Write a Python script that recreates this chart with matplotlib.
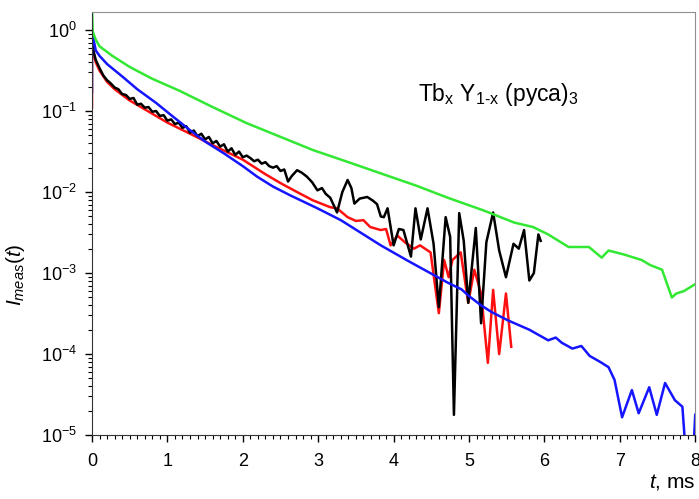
import numpy as np
import matplotlib
matplotlib.use('Agg')
import matplotlib.pyplot as plt
from matplotlib.ticker import MultipleLocator, LogFormatterMathtext, LogLocator

plt.rcParams['font.family'] = ['Liberation Sans', 'DejaVu Sans']
plt.rcParams['mathtext.fontset'] = 'custom'
plt.rcParams['mathtext.rm'] = 'Liberation Sans'
plt.rcParams['mathtext.it'] = 'Liberation Sans:italic'

# green curve
green_t = [0, 0.01, 0.05, 0.1, 0.27, 0.5, 0.8, 1.16, 1.6, 2.05, 2.5, 2.93, 3.4, 3.83,
           4.3, 4.72, 5.2, 5.6, 5.85, 6.05, 6.32, 6.59, 6.76, 6.85, 7.05, 7.29, 7.4,
           7.56, 7.69, 7.75, 7.85, 8.05]
green_i = [1.9, 0.95, 0.76, 0.63, 0.48, 0.35, 0.25, 0.178, 0.112, 0.071, 0.048, 0.033,
           0.0234, 0.017, 0.012, 0.0085, 0.0059, 0.0042, 0.0037, 0.003, 0.0021, 0.0021,
           0.00155, 0.0019, 0.0017, 0.00145, 0.00126, 0.0011, 0.0005, 0.00056, 0.0006,
           0.00078]

# blue curve
blue_t = [0, 0, 0.05, 0.1, 0.2, 0.41, 0.6, 0.85, 1.05, 1.29, 1.5, 1.75, 2.0, 2.19, 2.4,
          2.63, 2.99, 3.3, 3.83, 4.2, 4.72, 4.9, 5.0, 5.16, 5.3, 5.52, 5.8, 6.05, 6.15,
          6.23, 6.37, 6.49, 6.6, 6.75, 6.85, 6.93, 7.03, 7.16, 7.25, 7.39, 7.49, 7.6,
          7.73, 7.83, 7.88, 7.97, 8.0]
blue_i = [0.17, 0.95, 0.56, 0.48, 0.38, 0.263, 0.186, 0.126, 0.089, 0.059, 0.042, 0.030,
          0.0209, 0.0155, 0.0117, 0.0091, 0.0063, 0.0045, 0.0022, 0.0014, 0.00076,
          0.00063, 0.00052, 0.0004, 0.00033, 0.00026, 0.0002, 0.000148, 0.00016,
          0.000138, 0.000117, 0.000126, 0.000095, 0.000079, 0.000069, 0.000048,
          0.0000166, 0.000036, 0.0000186, 0.000039, 0.0000178, 0.000044, 0.000027,
          0.0000224, 0.000005, 0.000005, 0.0000178]

# red curve
red_t = [0, 0, 0.02, 0.05, 0.1, 0.2, 0.3, 0.5, 0.7, 1.0, 1.3, 1.6, 2.0, 2.3, 2.5, 2.72,
         2.93, 3.16, 3.25, 3.39, 3.5, 3.6, 3.69, 3.83, 3.9, 3.96, 4.05, 4.15, 4.27, 4.35,
         4.49, 4.6, 4.67, 4.73, 4.78, 4.89, 4.99, 5.07, 5.16, 5.25, 5.32, 5.4, 5.49,
         5.56]
red_i = [0.11, 0.8, 0.52, 0.40, 0.316, 0.229, 0.186, 0.135, 0.105, 0.072, 0.0525, 0.038,
         0.0251, 0.0166, 0.0129, 0.010, 0.0079, 0.0065, 0.0063, 0.0049, 0.0044, 0.0045,
         0.0037, 0.0034, 0.0035, 0.0022, 0.0029, 0.0024, 0.0020, 0.0022, 0.0018,
         0.00032, 0.00145, 0.00089, 0.00145, 0.0018, 0.00043, 0.0011, 0.00056,
         0.000078, 0.00062, 0.0001, 0.00056, 0.000123]

# black curve
black_t = [0.0, 0.02, 0.05, 0.1, 0.15, 0.2, 0.25, 0.3, 0.35, 0.4, 0.45, 0.5, 0.55, 0.6,
           0.65, 0.7, 0.75, 0.8, 0.85, 0.9, 0.95, 1.0, 1.05, 1.1, 1.15, 1.2, 1.25, 1.3,
           1.35, 1.4, 1.45, 1.5, 1.55, 1.6, 1.65, 1.7, 1.75, 1.8, 1.85, 1.9, 1.95, 2.0,
           2.05, 2.1, 2.15, 2.2, 2.25, 2.3, 2.35, 2.4, 2.45, 2.5, 2.55, 2.6, 2.65, 2.72,
           2.78, 2.85, 2.92, 2.99, 3.05, 3.1, 3.16, 3.25, 3.32, 3.39, 3.44, 3.48, 3.55,
           3.65, 3.72, 3.78, 3.83, 3.87, 3.92, 4.0, 4.07, 4.13, 4.23, 4.29, 4.36, 4.45,
           4.53, 4.6, 4.69, 4.75, 4.8, 4.87, 4.93, 4.99, 5.09, 5.16, 5.23, 5.32, 5.4,
           5.49, 5.59, 5.66, 5.73, 5.8, 5.86, 5.92, 5.95]
black_i = [0.79, 0.55, 0.427, 0.339, 0.275, 0.24, 0.219, 0.195, 0.186, 0.162, 0.158,
           0.141, 0.145, 0.120, 0.123, 0.110, 0.112, 0.098, 0.100, 0.087, 0.089, 0.076,
           0.079, 0.069, 0.072, 0.062, 0.065, 0.054, 0.0575, 0.049, 0.0525, 0.0447,
           0.0479, 0.040, 0.0427, 0.0363, 0.0389, 0.0316, 0.0347, 0.0288, 0.0316, 0.0269,
           0.0282, 0.0263, 0.024, 0.0251, 0.0224, 0.0234, 0.0209, 0.020, 0.0209, 0.0182,
           0.019, 0.0135, 0.0158, 0.0186, 0.0174, 0.0155, 0.0132, 0.0105, 0.0112, 0.0095,
           0.0085, 0.0056, 0.010, 0.0141, 0.0112, 0.0072, 0.0083, 0.0087, 0.0079, 0.0071,
           0.005, 0.0049, 0.0063, 0.0022, 0.0035, 0.0034, 0.0016, 0.0063, 0.0026, 0.0063,
           0.0023, 0.00038, 0.0049, 0.0028, 0.0000178, 0.0055, 0.0025, 0.00043, 0.0036,
           0.00024, 0.0024, 0.0056, 0.0019, 0.00089, 0.0023, 0.002, 0.0034, 0.00081,
           0.001, 0.003, 0.0025]

fig = plt.figure(figsize=(6.99, 4.99), dpi=100)
ax = fig.add_axes([0.1316, 0.128, 0.863, 0.848])

lw = 1.8
ax.plot(red_t, red_i, color='#ff1010', lw=lw)
ax.plot(black_t, black_i, color='black', lw=lw)
ax.plot(blue_t, blue_i, color='#1515ff', lw=lw)
ax.plot(green_t, green_i, color='#33e833', lw=lw)

ax.set_yscale('log')
ax.set_ylim(1e-5, 1.67)
ax.set_xlim(0, 8)

ax.xaxis.set_major_locator(MultipleLocator(1))
ax.xaxis.set_minor_locator(MultipleLocator(0.1))
ax.yaxis.set_major_locator(LogLocator(base=10))
ax.yaxis.set_major_formatter(LogFormatterMathtext())
ax.yaxis.set_minor_locator(LogLocator(base=10, subs=np.arange(2, 10)))

ax.tick_params(which='major', direction='out', length=5, width=1, labelsize=13, pad=6)
ax.tick_params(which='minor', direction='out', length=3, width=0.8)
ax.tick_params(axis='x', pad=8)

for s in ['left', 'bottom']:
    ax.spines[s].set_color('#333333')
for s in ['top', 'right']:
    ax.spines[s].set_color('#909090')

ax.text(0.54, 0.79, r'Tb$_{\mathrm{x}}$ Y$_{\mathrm{1\text{-}x}}$ (pyca)$_{\mathrm{3}}$',
        transform=ax.transAxes, fontsize=16.5)

fig.text(0.022, 0.45, r'$I_{meas}(t)$', rotation=90, fontsize=15, ha='center', va='center')
fig.text(0.928, 0.015, r'$t$, ms', fontsize=15, ha='left', va='bottom')

fig.savefig('out.png', dpi=100)
